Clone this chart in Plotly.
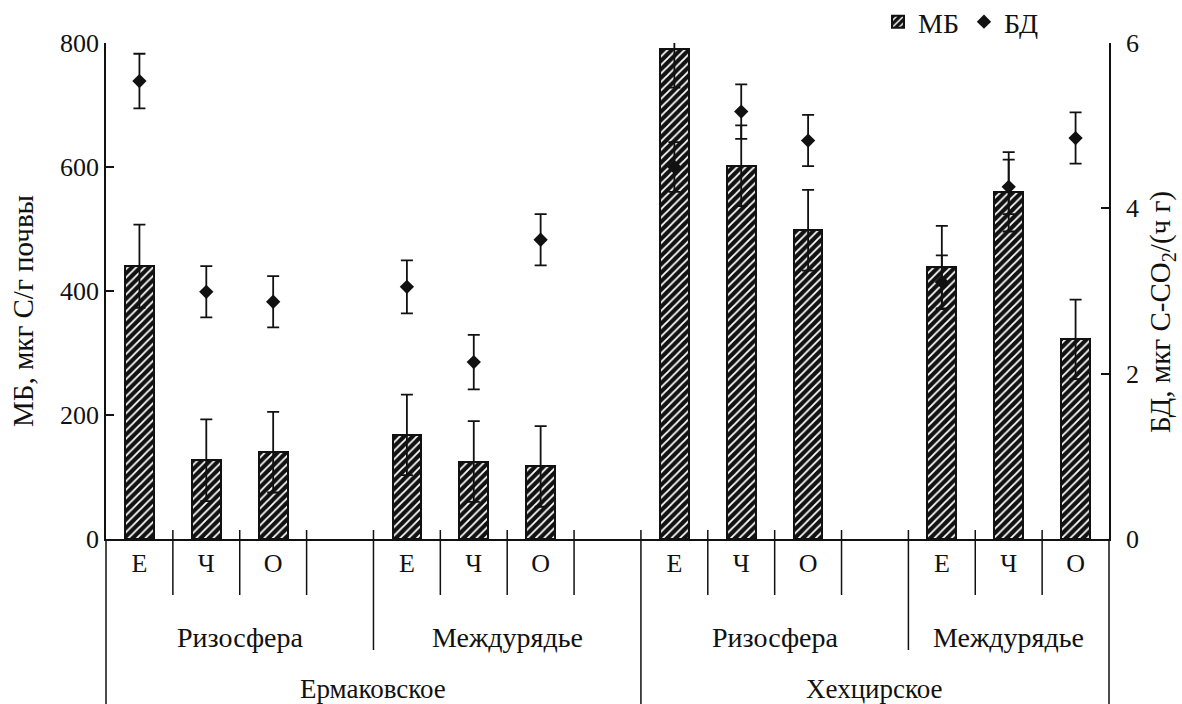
import plotly.graph_objects as go

# ---------------- data ----------------
sites = ["Ермаковское", "Хехцирское"]
zones = ["Ризосфера", "Междурядье"]
variants = ["Е", "Ч", "О"]

mb_values = [440, 127, 140, 168, 125, 117, 790, 602, 498, 438, 560, 322]
mb_errors = [67, 66, 65, 65, 65, 65, 62, 65, 65, 67, 64, 64]
bd_values = [5.54, 2.99, 2.87, 3.05, 2.14, 3.62, 4.50, 5.17, 4.82, 3.11, 4.26, 4.85]
bd_errors = [0.33, 0.31, 0.31, 0.32, 0.33, 0.31, 0.30, 0.33, 0.31, 0.32, 0.33, 0.31]

mb_ticks = [0, 200, 400, 600, 800]
bd_ticks = [0, 2, 4, 6]

# ---------------- category layout (slots) ----------------
slots_per_zone = 4  # 3 variants + 1 empty spacer
n_groups = len(sites) * len(zones)
n_slots = n_groups * slots_per_zone - 1
x_pos, x_text = [], []
for g in range(n_groups):
    for v, name in enumerate(variants):
        x_pos.append(g * slots_per_zone + v)
        x_text.append(name)

W, H = 1182, 704
L, R, T, B = 106, 73, 43, 165
plot_w = W - L - R
plot_h = H - T - B

def py(px):  # pixel y -> paper y
    return (H - B - px) / plot_h

def pxx(px):  # pixel x -> paper x
    return (px - L) / plot_w

FONT = "Liberation Serif, Times New Roman, serif"
INK = "#111111"
LW = 1.5

fig = go.Figure()
fig.add_trace(go.Bar(
    x=x_pos, y=mb_values, name="МБ", width=0.43,
    marker=dict(color="#111111", line=dict(color=INK, width=2),
                pattern=dict(shape="/", fgcolor="white", bgcolor="#111111",
                             fgopacity=1, size=6, solidity=0.3)),
    error_y=dict(type="data", array=mb_errors, color=INK, thickness=1.8, width=6),
    yaxis="y",
))
fig.add_trace(go.Scatter(
    x=x_pos, y=bd_values, name="БД", mode="markers",
    marker=dict(symbol="diamond", size=11, color=INK),
    error_y=dict(type="data", array=bd_errors, color=INK, thickness=1.8, width=6),
    yaxis="y2",
))

shapes = []
short_end, mid_end, long_end, top_start = py(595), py(650), py(704), py(530)
for k in range(n_slots - 1):
    b = k + 0.5
    if (k + 1) % (slots_per_zone * len(zones)) == 0:
        y1 = long_end
    elif (k + 1) % slots_per_zone == 0:
        y1 = mid_end
    else:
        y1 = short_end
    shapes.append(dict(type="line", xref="x", yref="paper", x0=b, x1=b,
                       y0=top_start, y1=y1, line=dict(color=INK, width=LW)))
for xp in (0, 1):
    shapes.append(dict(type="line", xref="paper", yref="paper", x0=xp, x1=xp,
                       y0=0, y1=long_end, line=dict(color=INK, width=LW)))

annotations = []
for g in range(n_groups):
    c = g * slots_per_zone + (min(slots_per_zone, n_slots - g * slots_per_zone) - 1) / 2
    annotations.append(dict(x=c, y=py(637), xref="x", yref="paper", showarrow=False,
                            text=zones[g % len(zones)], yanchor="middle",
                            font=dict(family=FONT, size=28, color=INK)))
for s in range(len(sites)):
    lo = s * slots_per_zone * len(zones) - 0.5
    hi = min((s + 1) * slots_per_zone * len(zones) - 0.5, n_slots - 0.5)
    annotations.append(dict(x=(lo + hi) / 2, y=py(704), xref="x", yref="paper",
                            showarrow=False, text=sites[s], yanchor="bottom",
                            borderpad=0, yshift=-1,
                            font=dict(family=FONT, size=27, color=INK)))
annotations.append(dict(x=pxx(23), y=py(311), xref="paper", yref="paper", showarrow=False,
                        text="МБ, мкг С/г почвы", textangle=-90, xanchor="center",
                        yanchor="middle", font=dict(family=FONT, size=29, color=INK)))
annotations.append(dict(x=pxx(1162), y=py(312), xref="paper", yref="paper", showarrow=False,
                        text="БД, мкг C-CO<sub>2</sub>/(ч г)", textangle=-90,
                        xanchor="center", yanchor="middle",
                        font=dict(family=FONT, size=29, color=INK)))

fig.update_layout(
    width=W, height=H,
    margin=dict(l=L, r=R, t=T, b=B, pad=0, autoexpand=False),
    paper_bgcolor="white", plot_bgcolor="white",
    font=dict(family=FONT, size=26, color=INK),
    showlegend=True,
    legend=dict(orientation="h", x=pxx(878), y=py(22),
                xanchor="left", yanchor="middle", font=dict(size=28),
                itemwidth=30, bgcolor="rgba(0,0,0,0)", tracegroupgap=0),
    bargap=0,
    xaxis=dict(range=[-0.5, n_slots - 0.5], tickmode="array", tickvals=x_pos,
               ticktext=x_text, ticks="", showgrid=False, zeroline=False,
               showline=True, linecolor=INK, linewidth=LW,
               ticklabelstandoff=0, tickfont=dict(size=26)),
    yaxis=dict(range=[0, 800], tickmode="array", tickvals=mb_ticks, ticks="inside",
               ticklen=8, tickwidth=LW, tickcolor=INK, showgrid=False, zeroline=False,
               showline=True, linecolor=INK, linewidth=LW, tickfont=dict(size=26)),
    yaxis2=dict(range=[0, 6], tickmode="array", tickvals=bd_ticks, overlaying="y",
                side="right", ticks="inside", ticklen=8, tickwidth=LW, tickcolor=INK,
                showgrid=False, zeroline=False, showline=True, linecolor=INK,
                linewidth=LW, tickfont=dict(size=26), ticklabelstandoff=10),
    shapes=shapes,
    annotations=annotations,
)

fig.write_html("out.html")
